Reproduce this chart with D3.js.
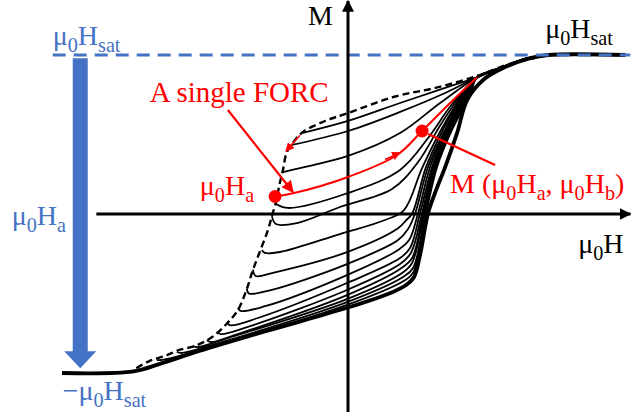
<!DOCTYPE html>
<html>
<head>
<meta charset="utf-8">
<script src="https://cdn.jsdelivr.net/npm/d3@7"></script>
<style>
  body { margin: 0; background: #fff; }
</style>
</head>
<body>
<div id="chart"></div>
<script>
// Schematic FORC picture: field H and magnetisation M in arbitrary units
var hDomain = [-200, 200];
var mDomain = [-100, 100];

// ascending major branch (thick envelope), [H, M]
var envelope = [[-200, -100], [-150, -99], [-132, -94.4], [-104, -86.2], [-57, -73.6], [-0.7, -59],
  [31.5, -49], [40.6, -44.7], [46.2, -39.6], [50.4, -25.8], [56, 0.5], [61.6, 15], [68, 29.6],
  [76.3, 51], [83.3, 71.7], [94.5, 84.3], [108.5, 91.8], [127.4, 98], [140, 100], [194, 100]];

// descending branch = locus of reversal points (dashed)
var descending = [[-148, -97], [-139, -92.5], [-128, -89.3], [-118, -85.5], [-107, -83], [-95, -77.4],
  [-85, -69.2], [-77, -60.4], [-71, -47.8], [-67, -36.5], [-62, -24.5], [-56, -10.1], [-53, -0.6],
  [-50, 8.8], [-48, 18.2], [-45.5, 27.7], [-42.7, 39], [-37, 46.5], [-31.5, 51.6], [-16, 58.5],
  [0, 63.5], [33, 73.9], [61, 79.3], [90.3, 86.8], [113, 94.4], [140, 100]];

// common end of every FORC near positive saturation
var forcTail = [[90.3, 86], [106.4, 91.8], [123.9, 97.5], [140, 100]];

// individual FORCs, starting at their reversal field Ha
var forc1 = [[-31.5, 51], [0, 58.5], [36.4, 69.8], [67.9, 79.3]];
var forc2 = [[-39.2, 43.4], [0, 52.2], [36.4, 64.2], [67.9, 76.1]];
var forc3 = [[-45.5, 26.4], [-33.6, 28.9], [0, 36.5], [36.4, 50.9], [64.4, 69.8]];
var forcRed = [[-51, 11], [-38.5, 13], [0, 23.3], [34.3, 37.1], [51.8, 52.2], [71.4, 69.8]];
var forc4 = [[-50.4, 6.3], [-42, 3.8], [0, 13.2], [36.4, 27.7], [56, 47.8], [72.8, 69.2]];
var forc5 = [[-53.2, -1.3], [-50.4, -6.3], [-35.7, -5.7], [-5.6, 4.4], [30.8, 15.7], [49, 32.7], [65.1, 56.6], [78.4, 74.2]];
var forc6 = [[-60.2, -22.6], [-58.1, -24.5], [-47.6, -23.9], [-5.6, -12.6], [25.9, -3.8], [39.2, 2.5], [51.8, 28.9], [65.8, 54.1], [80.5, 75.5]];
var forc7 = [[-66.5, -35], [-64.5, -39], [-52.5, -37], [-0.7, -24], [35, -9], [40.6, -4], [45, 0.5], [54.6, 29.6], [66.5, 53], [80, 75]];
var forc8 = [[-70.7, -47], [-69.3, -50], [-54.6, -48], [-0.7, -31.5], [35, -16.4], [42, -9.4], [47, 0.5], [56, 29.6], [68, 53], [80.5, 75]];
var forc9 = [[-77, -59], [-75, -61], [-58, -58], [-0.7, -38.4], [35, -22.6], [42.7, -16.4], [49, 0.5], [57.4, 29.6], [68.6, 53], [81.2, 75]];
var forc10 = [[-84.7, -68.6], [-82, -70], [-63, -65.4], [-0.7, -43.4], [36.4, -27.7], [43.4, -21.4], [50.4, 0.5], [58.8, 29.6], [69.3, 53], [82, 75]];
var forc11 = [[-91.7, -74], [-89, -75.5], [-70, -71], [-0.7, -47.8], [36.4, -31.5], [44, -24.5], [51.8, 0.5], [59.5, 29.6], [70, 53], [82.6, 75]];
var forc12 = [[-98.7, -79.3], [-96, -80.5], [-75.6, -75], [-0.7, -51], [36.4, -34.6], [44.8, -27.7], [52.5, 0.5], [60.2, 29.6], [70.7, 53], [83.3, 75]];
var forc13 = [[-108.5, -83], [-105, -83.7], [-84, -78], [-0.7, -53.5], [37.8, -37.1], [44.8, -30.8], [53.2, 0.5], [60.9, 29.6], [71.4, 53], [84, 75]];
var forc14 = [[-119.7, -86.8], [-116, -87.4], [-93, -81.8], [-0.7, -55.4], [38.5, -39.6], [45.5, -34], [54, 0.5], [61.6, 29.6], [72, 53], [84.7, 75]];
var forc15 = [[-133.7, -91.8], [-130, -91.8], [-103.6, -85.5], [-0.7, -57.2], [39.2, -42], [45.5, -37], [54.6, 0.5], [62.3, 29.6], [72.8, 53], [85.4, 75]];

var blackForcs = [forc1, forc2, forc3, forc4, forc5, forc6, forc7, forc8, forc9, forc10,
  forc11, forc12, forc13, forc14, forc15];

// marked points: (Ha, M at reversal) and M(Ha, Hb)
var redPoints = [[-51, 11], [51.8, 52.2]];

var blue = "#4472c4", red = "#ff0000";

var width = 631, height = 414;
var svg = d3.select("#chart").append("svg")
    .attr("width", width)
    .attr("height", height)
    .attr("font-family", "'Liberation Serif', serif");

var x = d3.scaleLinear().domain(hDomain).range([62, 634]);
var y = d3.scaleLinear().domain(mDomain).range([373, 55]);

var curve = d3.line()
    .x(function(d) { return x(d[0]); })
    .y(function(d) { return y(d[1]); })
    .curve(d3.curveCatmullRom.alpha(0.5));

// arrow heads
var defs = svg.append("defs");
function marker(id, color, w) {
  defs.append("marker")
    .attr("id", id)
    .attr("viewBox", "0 0 10 10")
    .attr("refX", 9).attr("refY", 5)
    .attr("markerWidth", w).attr("markerHeight", w)
    .attr("markerUnits", "strokeWidth")
    .attr("orient", "auto")
    .append("path")
    .attr("d", "M0,0L10,5L0,10z")
    .attr("fill", color);
}
marker("headBlack", "#000", 4);
marker("headRed", red, 5.5);

// FORCs
svg.append("g").selectAll("path")
  .data(blackForcs)
  .enter().append("path")
    .attr("d", function(d) { return curve(d.concat(forcTail)); })
    .attr("fill", "none")
    .attr("stroke", "#000")
    .attr("stroke-width", 1.8);

svg.append("path")
  .attr("d", curve(envelope))
  .attr("fill", "none")
  .attr("stroke", "#000")
  .attr("stroke-width", 3.8);

svg.append("path")
  .attr("d", curve(descending))
  .attr("fill", "none")
  .attr("stroke", "#000")
  .attr("stroke-width", 2.4)
  .attr("stroke-dasharray", "7,4");

// saturation level
svg.append("line")
  .attr("x1", x(-206.5)).attr("x2", x(197.4))
  .attr("y1", y(100)).attr("y2", y(100))
  .attr("stroke", blue)
  .attr("stroke-width", 3)
  .attr("stroke-dasharray", "13,8");

// axes
svg.append("line")
  .attr("x1", x(-176)).attr("x2", x(197.5))
  .attr("y1", y(0)).attr("y2", y(0))
  .attr("stroke", "#000").attr("stroke-width", 3)
  .attr("marker-end", "url(#headBlack)");
svg.append("line")
  .attr("x1", x(0)).attr("x2", x(0))
  .attr("y1", y(-124.5)).attr("y2", y(134))
  .attr("stroke", "#000").attr("stroke-width", 3)
  .attr("marker-end", "url(#headBlack)");

// the highlighted FORC
svg.append("path")
  .attr("d", curve(forcRed.concat(forcTail.slice(0, 1))))
  .attr("fill", "none")
  .attr("stroke", red)
  .attr("stroke-width", 2);

function redArrow(a, b, w) {
  svg.append("line")
    .attr("x1", x(a[0])).attr("y1", y(a[1]))
    .attr("x2", x(b[0])).attr("y2", y(b[1]))
    .attr("stroke", red).attr("stroke-width", w)
    .attr("marker-end", "url(#headRed)");
}
redArrow([-84, 65.4], [-38.5, 13.8], 2.2);   // "A single FORC" pointer
redArrow([26, 34.3], [36.4, 38.6], 1.6);     // direction along the FORC
redArrow([-33.6, 49.5], [-43.4, 39.6], 1.6); // direction along the descending branch

svg.append("line")
  .attr("x1", x(102.9)).attr("y1", y(30.8))
  .attr("x2", x(56)).attr("y2", y(50.3))
  .attr("stroke", red).attr("stroke-width", 2.4);

svg.selectAll("circle.pt")
  .data(redPoints)
  .enter().append("circle")
    .attr("class", "pt")
    .attr("cx", function(d) { return x(d[0]); })
    .attr("cy", function(d) { return y(d[1]); })
    .attr("r", 6.5)
    .attr("fill", red);

// blue arrow from +Hsat down to -Hsat
var ax = x(-187.25), aTop = y(98), aTip = y(-97);
svg.append("path")
  .attr("d", "M" + (ax - 7.5) + "," + aTop + "H" + (ax + 7.5) + "V" + (aTip - 17) +
             "H" + (ax + 16) + "L" + ax + "," + aTip + "L" + (ax - 16) + "," + (aTip - 17) +
             "H" + (ax - 7.5) + "Z")
  .attr("fill", blue);

// labels
function label(parts, h, m, color, size) {
  var t = svg.append("text")
    .attr("x", x(h)).attr("y", y(m))
    .attr("fill", color)
    .attr("font-family", "'Liberation Serif', serif")
    .attr("font-size", size);
  var shift = 0, subShift = size * 0.24;
  parts.forEach(function(p) {
    var sub = p.length > 1;
    var target = sub ? subShift : 0;
    t.append("tspan")
      .attr("dy", target - shift)
      .attr("font-size", sub ? size * 0.72 : size)
      .text(p[0]);
    shift = target;
  });
}
var muH = function(s) { return [["μ"], ["0", 1], ["H"], [s, 1]]; };

label([["M"]], -28, 119, "#000", 28);
label([["μ"], ["0", 1], ["H"]], 161, -24.5, "#000", 28);
label(muH("sat"), -206.5, 106.3, blue, 28);
label(muH("sat"), 137.9, 110.7, "#000", 28);
label(muH("a"), -235.2, -6.9, blue, 28);
label([["−μ"], ["0", 1], ["H"], ["sat", 1]], -199.5, -117, blue, 28);
label([["A single FORC"]], -138.6, 70.4, red, 29);
label(muH("a"), -103.6, 12, red, 28);
label([["M (μ"], ["0", 1], ["H"], ["a", 1], [", μ"], ["0", 1], ["H"], ["b", 1], [")"]], 71.4, 13.2, red, 28);
</script>
</body>
</html>
